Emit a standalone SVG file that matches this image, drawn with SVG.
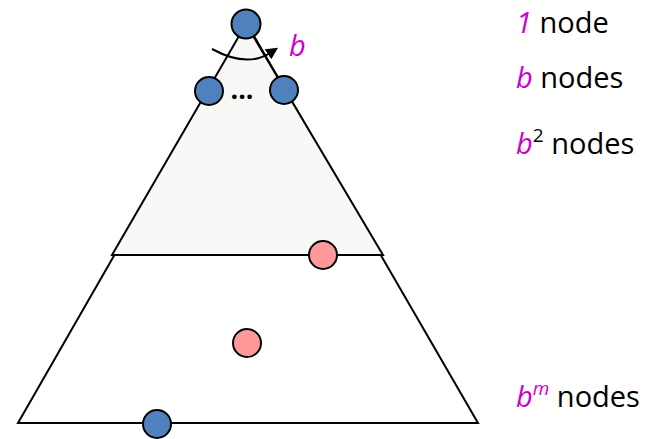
<svg xmlns="http://www.w3.org/2000/svg" width="669" height="439" viewBox="0 0 669 439">
<style>
.tri{stroke:#000;stroke-width:2;stroke-linejoin:miter}
.blue{fill:#4F81BD;stroke:#000;stroke-width:2}
.pink{fill:#FF9999;stroke:#000;stroke-width:2}
.lbl{font-family:"Open Sans","Liberation Sans",sans-serif;font-size:29px;fill:#000}
.mag{fill:#CC00CC;font-style:italic}
</style>
<defs>
<marker id="ah" viewBox="0 0 10 10" refX="2" refY="5" markerWidth="6" markerHeight="6" orient="auto" markerUnits="strokeWidth">
<path d="M0,0 L10,5 L0,10 z" fill="#000"/>
</marker>
</defs>
<g id="outer-triangle"><polygon class="tri" points="247,24 18,423 478,423" fill="#FFFFFF"/></g>
<g id="inner-triangle"><polygon class="tri" points="246,24 112,255 383,255" fill="#F8F8F6"/></g>
<g id="connectors">
<path d="M212,49 Q247,68 270,53" fill="none" stroke="#000" stroke-width="2" marker-end="url(#ah)"/>
</g>
<g id="root"><circle class="blue" cx="246" cy="24" r="14.5"/></g>
<g id="child-left"><circle class="blue" cx="209" cy="91" r="14"/></g>
<g id="child-right"><circle class="blue" cx="284" cy="90" r="14"/></g>
<g id="ellipsis"><text x="242" y="99" text-anchor="middle" font-family="Open Sans, Liberation Sans, sans-serif" font-size="27" font-weight="bold">...</text></g>
<g id="pink-1"><circle class="pink" cx="323" cy="255" r="14"/></g>
<g id="pink-2"><circle class="pink" cx="247" cy="343" r="14"/></g>
<g id="leaf"><circle class="blue" cx="157" cy="424" r="14"/></g>
<g id="b-label"><text class="lbl mag" x="289" y="56" font-size="32">b</text></g>
<g id="labels">
<text class="lbl" x="516" y="33"><tspan class="mag">1</tspan> node</text>
<text class="lbl" x="516" y="88"><tspan class="mag">b</tspan> nodes</text>
<text class="lbl" x="516" y="154"><tspan class="mag">b</tspan><tspan font-size="19" dy="-12">2</tspan><tspan dy="12"> nodes</tspan></text>
<text class="lbl" x="516" y="407"><tspan class="mag">b</tspan><tspan class="mag" font-size="19" dy="-12">m</tspan><tspan dy="12"> nodes</tspan></text>
</g>
</svg>
